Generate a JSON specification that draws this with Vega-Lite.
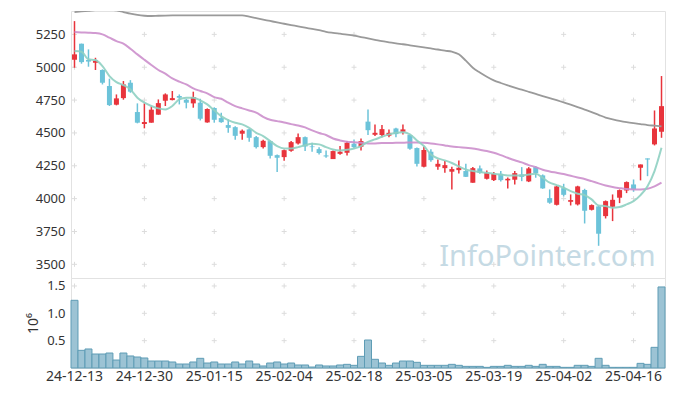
{
  "$schema": "https://vega.github.io/schema/vega-lite/v6.json",
  "autosize": {"type": "pad"},
  "padding": {"left": 26, "top": 10, "right": 10, "bottom": 12},
  "background": "white",
  "spacing": 0,
  "bounds": "flush",
  "config": {
    "font": "Noto Sans",
    "view": {"stroke": "#e2e2e2"},
    "axis": {"labelFont": "Noto Sans", "titleFont": "Noto Sans", "labelColor": "#333333", "titleColor": "#333333", "ticks": false, "domain": false, "grid": false, "labelFontSize": 13, "labelOverlap": false}
  },
  "datasets": {
    "px": [
      {"d":"24-12-13","o":5057,"h":5351,"l":4996,"c":5098,"v":1238000,"ma5":5123,"ma20":5268,"ma60":5420},
      {"d":"24-12-16","o":5179,"h":5180,"l":5027,"c":5039,"v":323000,"ma5":5118,"ma20":5265,"ma60":5425},
      {"d":"24-12-17","o":5055,"h":5136,"l":5004,"c":5043,"v":348000,"ma5":5060,"ma20":5263,"ma60":5430},
      {"d":"24-12-18","o":5034,"h":5072,"l":4979,"c":5050,"v":256000,"ma5":5055,"ma20":5260,"ma60":5435},
      {"d":"24-12-19","o":4979,"h":4984,"l":4869,"c":4882,"v":256000,"ma5":5009,"ma20":5250,"ma60":5438},
      {"d":"24-12-20","o":4857,"h":4913,"l":4705,"c":4712,"v":274000,"ma5":4933,"ma20":5225,"ma60":5438},
      {"d":"24-12-23","o":4715,"h":4793,"l":4710,"c":4763,"v":146000,"ma5":4887,"ma20":5199,"ma60":5432},
      {"d":"24-12-24","o":4765,"h":4895,"l":4753,"c":4869,"v":274000,"ma5":4864,"ma20":5179,"ma60":5420},
      {"d":"24-12-26","o":4882,"h":4902,"l":4806,"c":4814,"v":220000,"ma5":4831,"ma20":5141,"ma60":5408},
      {"d":"24-12-27","o":4659,"h":4725,"l":4573,"c":4578,"v":201000,"ma5":4768,"ma20":5098,"ma60":5398},
      {"d":"24-12-30","o":4568,"h":4725,"l":4535,"c":4583,"v":183000,"ma5":4730,"ma20":5057,"ma60":5392},
      {"d":"25-01-02","o":4578,"h":4702,"l":4578,"c":4677,"v":128000,"ma5":4705,"ma20":5017,"ma60":5390},
      {"d":"25-01-03","o":4639,"h":4755,"l":4639,"c":4727,"v":128000,"ma5":4687,"ma20":4979,"ma60":5392},
      {"d":"25-01-06","o":4745,"h":4801,"l":4705,"c":4793,"v":128000,"ma5":4679,"ma20":4951,"ma60":5393},
      {"d":"25-01-07","o":4750,"h":4819,"l":4748,"c":4765,"v":110000,"ma5":4705,"ma20":4915,"ma60":5394},
      {"d":"25-01-08","o":4781,"h":4793,"l":4717,"c":4768,"v":73000,"ma5":4755,"ma20":4890,"ma60":5395},
      {"d":"25-01-09","o":4753,"h":4760,"l":4687,"c":4730,"v":73000,"ma5":4768,"ma20":4869,"ma60":5395},
      {"d":"25-01-10","o":4725,"h":4814,"l":4692,"c":4773,"v":110000,"ma5":4768,"ma20":4839,"ma60":5395},
      {"d":"25-01-13","o":4730,"h":4760,"l":4595,"c":4608,"v":177000,"ma5":4748,"ma20":4819,"ma60":5395},
      {"d":"25-01-14","o":4580,"h":4687,"l":4578,"c":4682,"v":91000,"ma5":4717,"ma20":4801,"ma60":5395},
      {"d":"25-01-15","o":4690,"h":4695,"l":4578,"c":4600,"v":110000,"ma5":4672,"ma20":4773,"ma60":5395},
      {"d":"25-01-16","o":4613,"h":4654,"l":4577,"c":4582,"v":73000,"ma5":4628,"ma20":4760,"ma60":5395},
      {"d":"25-01-17","o":4560,"h":4603,"l":4501,"c":4539,"v":73000,"ma5":4598,"ma20":4730,"ma60":5395},
      {"d":"25-01-20","o":4544,"h":4550,"l":4448,"c":4478,"v":110000,"ma5":4577,"ma20":4704,"ma60":5395},
      {"d":"25-01-21","o":4494,"h":4527,"l":4448,"c":4517,"v":73000,"ma5":4565,"ma20":4687,"ma60":5395},
      {"d":"25-01-22","o":4527,"h":4532,"l":4433,"c":4463,"v":128000,"ma5":4539,"ma20":4671,"ma60":5385},
      {"d":"25-01-23","o":4468,"h":4476,"l":4382,"c":4392,"v":73000,"ma5":4501,"ma20":4654,"ma60":5374},
      {"d":"25-01-24","o":4392,"h":4448,"l":4382,"c":4440,"v":37000,"ma5":4476,"ma20":4623,"ma60":5363},
      {"d":"25-01-31","o":4438,"h":4443,"l":4306,"c":4326,"v":91000,"ma5":4438,"ma20":4600,"ma60":5352},
      {"d":"25-02-03","o":4331,"h":4336,"l":4202,"c":4311,"v":110000,"ma5":4400,"ma20":4590,"ma60":5341},
      {"d":"25-02-04","o":4316,"h":4374,"l":4288,"c":4369,"v":73000,"ma5":4382,"ma20":4580,"ma60":5331},
      {"d":"25-02-05","o":4364,"h":4438,"l":4357,"c":4430,"v":91000,"ma5":4382,"ma20":4567,"ma60":5321},
      {"d":"25-02-06","o":4420,"h":4496,"l":4412,"c":4468,"v":55000,"ma5":4392,"ma20":4557,"ma60":5311},
      {"d":"25-02-07","o":4468,"h":4473,"l":4362,"c":4397,"v":55000,"ma5":4407,"ma20":4542,"ma60":5301},
      {"d":"25-02-10","o":4397,"h":4425,"l":4357,"c":4392,"v":18000,"ma5":4418,"ma20":4519,"ma60":5292},
      {"d":"25-02-11","o":4377,"h":4392,"l":4336,"c":4347,"v":55000,"ma5":4413,"ma20":4499,"ma60":5282},
      {"d":"25-02-12","o":4329,"h":4367,"l":4311,"c":4321,"v":37000,"ma5":4392,"ma20":4484,"ma60":5270},
      {"d":"25-02-13","o":4301,"h":4367,"l":4301,"c":4362,"v":37000,"ma5":4374,"ma20":4458,"ma60":5262},
      {"d":"25-02-14","o":4341,"h":4400,"l":4334,"c":4357,"v":55000,"ma5":4367,"ma20":4443,"ma60":5255},
      {"d":"25-02-17","o":4349,"h":4438,"l":4329,"c":4425,"v":67000,"ma5":4372,"ma20":4433,"ma60":5248},
      {"d":"25-02-18","o":4418,"h":4451,"l":4382,"c":4392,"v":49000,"ma5":4382,"ma20":4430,"ma60":5240},
      {"d":"25-02-19","o":4395,"h":4458,"l":4367,"c":4438,"v":213000,"ma5":4400,"ma20":4425,"ma60":5230},
      {"d":"25-02-20","o":4586,"h":4679,"l":4484,"c":4521,"v":512000,"ma5":4432,"ma20":4419,"ma60":5219},
      {"d":"25-02-21","o":4486,"h":4565,"l":4476,"c":4501,"v":159000,"ma5":4451,"ma20":4420,"ma60":5209},
      {"d":"25-02-24","o":4484,"h":4560,"l":4468,"c":4529,"v":91000,"ma5":4471,"ma20":4423,"ma60":5198},
      {"d":"25-02-25","o":4479,"h":4527,"l":4468,"c":4501,"v":49000,"ma5":4489,"ma20":4423,"ma60":5190},
      {"d":"25-02-26","o":4534,"h":4539,"l":4468,"c":4491,"v":91000,"ma5":4501,"ma20":4425,"ma60":5182},
      {"d":"25-02-27","o":4509,"h":4565,"l":4489,"c":4527,"v":128000,"ma5":4506,"ma20":4425,"ma60":5175},
      {"d":"25-02-28","o":4484,"h":4489,"l":4372,"c":4380,"v":128000,"ma5":4489,"ma20":4428,"ma60":5167},
      {"d":"25-03-04","o":4385,"h":4390,"l":4245,"c":4265,"v":104000,"ma5":4443,"ma20":4428,"ma60":5159},
      {"d":"25-03-05","o":4243,"h":4397,"l":4238,"c":4370,"v":49000,"ma5":4400,"ma20":4425,"ma60":5151},
      {"d":"25-03-06","o":4357,"h":4375,"l":4281,"c":4293,"v":49000,"ma5":4336,"ma20":4420,"ma60":5143},
      {"d":"25-03-07","o":4243,"h":4298,"l":4220,"c":4265,"v":49000,"ma5":4306,"ma20":4413,"ma60":5135},
      {"d":"25-03-10","o":4232,"h":4286,"l":4197,"c":4255,"v":49000,"ma5":4291,"ma20":4405,"ma60":5126},
      {"d":"25-03-11","o":4205,"h":4243,"l":4070,"c":4225,"v":67000,"ma5":4271,"ma20":4397,"ma60":5118},
      {"d":"25-03-12","o":4217,"h":4291,"l":4192,"c":4235,"v":49000,"ma5":4245,"ma20":4392,"ma60":5098},
      {"d":"25-03-13","o":4210,"h":4265,"l":4164,"c":4166,"v":30000,"ma5":4222,"ma20":4387,"ma60":5050},
      {"d":"25-03-14","o":4121,"h":4240,"l":4121,"c":4232,"v":30000,"ma5":4210,"ma20":4382,"ma60":4996},
      {"d":"25-03-17","o":4230,"h":4253,"l":4189,"c":4197,"v":30000,"ma5":4202,"ma20":4372,"ma60":4960},
      {"d":"25-03-18","o":4151,"h":4215,"l":4146,"c":4197,"v":12000,"ma5":4197,"ma20":4362,"ma60":4928},
      {"d":"25-03-19","o":4141,"h":4202,"l":4134,"c":4187,"v":30000,"ma5":4189,"ma20":4349,"ma60":4900},
      {"d":"25-03-20","o":4189,"h":4210,"l":4131,"c":4141,"v":30000,"ma5":4184,"ma20":4331,"ma60":4880},
      {"d":"25-03-21","o":4139,"h":4161,"l":4078,"c":4151,"v":49000,"ma5":4177,"ma20":4311,"ma60":4862},
      {"d":"25-03-24","o":4144,"h":4210,"l":4108,"c":4194,"v":30000,"ma5":4177,"ma20":4292,"ma60":4845},
      {"d":"25-03-25","o":4184,"h":4240,"l":4133,"c":4166,"v":30000,"ma5":4177,"ma20":4276,"ma60":4829},
      {"d":"25-03-26","o":4131,"h":4240,"l":4126,"c":4230,"v":49000,"ma5":4184,"ma20":4255,"ma60":4813},
      {"d":"25-03-27","o":4240,"h":4248,"l":4159,"c":4194,"v":30000,"ma5":4189,"ma20":4240,"ma60":4797},
      {"d":"25-03-28","o":4177,"h":4184,"l":4075,"c":4078,"v":67000,"ma5":4159,"ma20":4220,"ma60":4781},
      {"d":"25-03-31","o":4004,"h":4070,"l":3961,"c":3969,"v":30000,"ma5":4121,"ma20":4207,"ma60":4765},
      {"d":"25-04-01","o":3953,"h":4098,"l":3948,"c":4093,"v":30000,"ma5":4103,"ma20":4197,"ma60":4749},
      {"d":"25-04-02","o":4080,"h":4113,"l":4017,"c":4029,"v":12000,"ma5":4083,"ma20":4187,"ma60":4732},
      {"d":"25-04-03","o":3976,"h":4032,"l":3948,"c":3989,"v":12000,"ma5":4057,"ma20":4174,"ma60":4715},
      {"d":"25-04-04","o":3956,"h":4098,"l":3948,"c":4093,"v":49000,"ma5":4037,"ma20":4161,"ma60":4697},
      {"d":"25-04-07","o":4065,"h":4075,"l":3811,"c":3908,"v":49000,"ma5":4027,"ma20":4149,"ma60":4678},
      {"d":"25-04-08","o":3915,"h":3956,"l":3910,"c":3951,"v":30000,"ma5":3994,"ma20":4133,"ma60":4659},
      {"d":"25-04-09","o":3941,"h":3946,"l":3641,"c":3733,"v":177000,"ma5":3948,"ma20":4116,"ma60":4638},
      {"d":"25-04-10","o":3867,"h":3986,"l":3849,"c":3981,"v":49000,"ma5":3943,"ma20":4100,"ma60":4617},
      {"d":"25-04-11","o":3938,"h":4032,"l":3829,"c":3991,"v":12000,"ma5":3930,"ma20":4088,"ma60":4604},
      {"d":"25-04-14","o":4007,"h":4070,"l":3966,"c":4065,"v":12000,"ma5":3936,"ma20":4080,"ma60":4592},
      {"d":"25-04-15","o":4062,"h":4131,"l":4042,"c":4126,"v":12000,"ma5":3956,"ma20":4073,"ma60":4582},
      {"d":"25-04-16","o":4108,"h":4146,"l":4052,"c":4070,"v":12000,"ma5":3981,"ma20":4070,"ma60":4574},
      {"d":"25-04-17","o":4235,"h":4260,"l":4139,"c":4260,"v":85000,"ma5":4027,"ma20":4070,"ma60":4567},
      {"d":"25-04-18","o":4306,"h":4306,"l":4171,"c":4298,"v":67000,"ma5":4095,"ma20":4075,"ma60":4560},
      {"d":"25-04-21","o":4413,"h":4671,"l":4405,"c":4534,"v":378000,"ma5":4210,"ma20":4093,"ma60":4555},
      {"d":"25-04-22","o":4509,"h":4933,"l":4463,"c":4704,"v":1482000,"ma5":4387,"ma20":4121,"ma60":4550}
    ],
    "gridMain": [
      {"d": ["24-12-13","24-12-30","25-01-15","25-02-04","25-02-18","25-03-05","25-03-19","25-04-02","25-04-16"],
       "v": [3500,3750,4000,4250,4500,4750,5000,5250]}
    ],
    "gridVol": [
      {"d": ["24-12-13","24-12-30","25-01-15","25-02-04","25-02-18","25-03-05","25-03-19","25-04-02","25-04-16"],
       "v": [500000,1000000,1500000]}
    ]
  },
  "vconcat": [
    {
      "width": 594,
      "height": 267,
      "layer": [
        {
          "data": {"name": "gridMain"},
          "transform": [{"flatten": ["d"]}, {"flatten": ["v"]}],
          "mark": {"type": "point", "shape": "M-1,0L1,0M0,-1L0,1", "size": 25, "filled": false, "stroke": "#dcdcdc", "strokeWidth": 1, "opacity": 1},
          "encoding": {
            "x": {"field": "d", "type": "ordinal", "scale": {"paddingInner": 0, "paddingOuter": 0}, "axis": null},
            "y": {"field": "v", "type": "quantitative", "scale": {"domain": [3396, 5428], "nice": false, "zero": false},
                  "axis": {"title": null, "values": [3500,3750,4000,4250,4500,4750,5000,5250], "format": "d", "labelOverlap": false, "labelPadding": 6, "labelFontSize": 13}}
          }
        },
        {
          "data": {"values": [{}]},
          "mark": {"type": "text", "text": "InfoPointer.com", "font": "Noto Sans", "fontSize": 29, "color": "#c5dae4", "align": "right", "baseline": "alphabetic", "dx": -6},
          "encoding": {
            "x": {"datum": "25-04-22", "type": "ordinal", "axis": null},
            "y": {"datum": 3487, "type": "quantitative", "axis": {"title": null, "values": [3500,3750,4000,4250,4500,4750,5000,5250], "format": "d", "labelOverlap": false, "labelPadding": 6, "labelFontSize": 13}}
          }
        },
        {
          "data": {"name": "px"},
          "mark": {"type": "rule", "strokeWidth": 1.5},
          "encoding": {
            "x": {"field": "d", "type": "ordinal", "axis": null},
            "y": {"field": "l", "type": "quantitative", "axis": {"title": null, "values": [3500,3750,4000,4250,4500,4750,5000,5250], "format": "d", "labelOverlap": false, "labelPadding": 6, "labelFontSize": 13}},
            "y2": {"field": "h"},
            "color": {"condition": {"test": "datum.c >= datum.o", "value": "#e8343c"}, "value": "#6cc3d9"}
          }
        },
        {
          "data": {"name": "px"},
          "mark": {"type": "bar", "size": 5},
          "encoding": {
            "x": {"field": "d", "type": "ordinal", "axis": null},
            "y": {"field": "o", "type": "quantitative", "axis": {"title": null, "values": [3500,3750,4000,4250,4500,4750,5000,5250], "format": "d", "labelOverlap": false, "labelPadding": 6, "labelFontSize": 13}},
            "y2": {"field": "c"},
            "color": {"condition": {"test": "datum.c >= datum.o", "value": "#e8343c"}, "value": "#6cc3d9"}
          }
        },
        {
          "data": {"name": "px"},
          "mark": {"type": "line", "clip": true, "strokeWidth": 1.8, "color": "#9a9a9a", "interpolate": "monotone"},
          "encoding": {
            "x": {"field": "d", "type": "ordinal", "axis": null},
            "y": {"field": "ma60", "type": "quantitative", "axis": {"title": null, "values": [3500,3750,4000,4250,4500,4750,5000,5250], "format": "d", "labelOverlap": false, "labelPadding": 6, "labelFontSize": 13}}
          }
        },
        {
          "data": {"name": "px"},
          "mark": {"type": "line", "clip": true, "strokeWidth": 2, "color": "#cc8fcc", "opacity": 0.9, "interpolate": "monotone"},
          "encoding": {
            "x": {"field": "d", "type": "ordinal", "axis": null},
            "y": {"field": "ma20", "type": "quantitative", "axis": {"title": null, "values": [3500,3750,4000,4250,4500,4750,5000,5250], "format": "d", "labelOverlap": false, "labelPadding": 6, "labelFontSize": 13}}
          }
        },
        {
          "data": {"name": "px"},
          "mark": {"type": "line", "clip": true, "strokeWidth": 2, "color": "#8fd0c2", "opacity": 0.9, "interpolate": "monotone"},
          "encoding": {
            "x": {"field": "d", "type": "ordinal", "axis": null},
            "y": {"field": "ma5", "type": "quantitative", "axis": {"title": null, "values": [3500,3750,4000,4250,4500,4750,5000,5250], "format": "d", "labelOverlap": false, "labelPadding": 6, "labelFontSize": 13}}
          }
        }
      ]
    },
    {
      "width": 594,
      "height": 90,
      "layer": [
        {
          "data": {"name": "gridVol"},
          "transform": [{"flatten": ["d"]}, {"flatten": ["v"]}],
          "mark": {"type": "point", "shape": "M-1,0L1,0M0,-1L0,1", "size": 25, "filled": false, "stroke": "#dcdcdc", "strokeWidth": 1, "opacity": 1},
          "encoding": {
            "x": {"field": "d", "type": "ordinal", "scale": {"paddingInner": 0, "paddingOuter": 0},
                  "axis": {"title": null, "labelAngle": 0, "labelFontSize": 14, "labelPadding": 1,
                           "values": ["24-12-13","24-12-30","25-01-15","25-02-04","25-02-18","25-03-05","25-03-19","25-04-02","25-04-16"]}},
            "y": {"field": "v", "type": "quantitative", "scale": {"domain": [0, 1646000], "nice": false},
                  "axis": {"title": "10⁶", "titleFontSize": 14, "titleFontWeight": "normal", "titlePadding": 6,
                           "values": [500000, 1000000, 1500000], "labelExpr": "format(datum.value / 1000000, '.1f')", "labelPadding": 6, "labelFontSize": 13}}
          }
        },
        {
          "data": {"name": "px"},
          "mark": {"type": "bar", "fill": "#9cc3d4", "stroke": "#5e9cb5", "strokeWidth": 1},
          "encoding": {
            "x": {"field": "d", "type": "ordinal", "axis": {"title": null, "labelAngle": 0, "labelFontSize": 14, "labelPadding": 1,
                           "values": ["24-12-13","24-12-30","25-01-15","25-02-04","25-02-18","25-03-05","25-03-19","25-04-02","25-04-16"]}},
            "y": {"field": "v", "type": "quantitative", "axis": {"title": "10⁶", "titleFontSize": 14, "titleFontWeight": "normal", "titlePadding": 6,
                           "values": [500000, 1000000, 1500000], "labelExpr": "format(datum.value / 1000000, '.1f')", "labelPadding": 6, "labelFontSize": 13}}
          }
        }
      ]
    }
  ]
}
